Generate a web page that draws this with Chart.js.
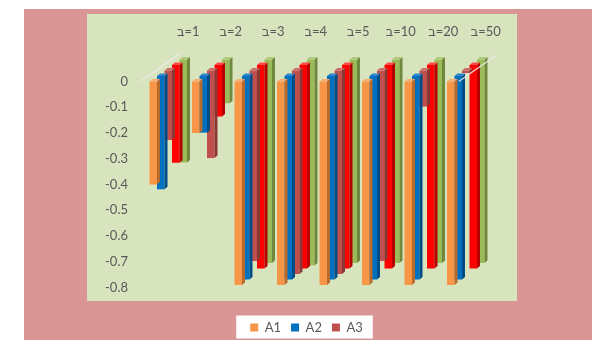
<!DOCTYPE html>
<html><head><meta charset="utf-8">
<script src="https://cdn.jsdelivr.net/npm/chart.js@4/dist/chart.umd.min.js"></script>
<style>
html,body{margin:0;padding:0;background:#fff;width:613px;height:349px;overflow:hidden}
#pink{position:absolute;left:24px;top:9px;width:568px;height:331px;background:#D99694}
#plot{position:absolute;left:87px;top:14px;width:430px;height:287px;background:#D7E4BD}
#wrap{position:absolute;left:0;top:0;width:613px;height:349px}
</style></head><body>
<div id="pink"></div><div id="plot"></div>
<div id="wrap"><canvas id="c" width="613" height="349"></canvas></div>
<script>
// ---- data ----
const categories = ['ב\u200E=1','ב\u200E=2','ב\u200E=3','ב\u200E=4','ב\u200E=5','ב\u200E=10','ב\u200E=20','ב\u200E=50'];
const seriesNames = ['A1','A2','A3','A4','A5'];
const a1 = [-0.40, -0.20, -0.79, -0.79, -0.79, -0.79, -0.79, -0.79];
const a2 = [-0.44, -0.22, -0.79, -0.79, -0.79, -0.79, -0.79, -0.79];
const a3 = [-0.27, -0.34, -0.74, -0.79, -0.79, -0.74, -0.14, -0.01];
const a4 = [-0.38, -0.20, -0.79, -0.79, -0.79, -0.79, -0.79, -0.79];
const a5 = [-0.40, -0.17, -0.79, -0.80, -0.79, -0.79, -0.79, -0.79];
const yTickValues = [0, -0.1, -0.2, -0.3, -0.4, -0.5, -0.6, -0.7, -0.8];
const yTickLabels = ['0', '-0.1', '-0.2', '-0.3', '-0.4', '-0.5', '-0.6', '-0.7', '-0.8'];
const legendCount = 3;

// ---- style ----
const frontColors = ['#F79646', '#0070C0', '#C0504D', '#FF0000', '#9BBB59'];
const sideColors  = ['#B86A2C', '#004C86', '#8A3735', '#B50000', '#6F883D'];
const topColors   = ['#F9AC70', '#2E86CC', '#CC6C69', '#FF4A4A', '#AFC97A'];
const FONT = "Lato, 'DejaVu Sans', sans-serif";
const TXT = '#595959';
const Y0PX = 81.5, PXPU = 257.5, DEPTH_Y = 5.5, DX = 3, DY = 2.5;
const yAxisIds = ['y', 'y1', 'y2', 'y3', 'y4'];
const seriesValues = [a1, a2, a3, a4, a5];

const depthPlugin = {
  id: 'depth',
  afterDatasetDraw(chart, args) {
    const k = args.index, ctx = chart.ctx;
    ctx.save();
    args.meta.data.forEach(el => {
      const p = el.getProps(['x', 'y', 'base', 'width'], true);
      const l = p.x - p.width / 2, r = p.x + p.width / 2;
      const t = Math.min(p.y, p.base), b = Math.max(p.y, p.base);
      ctx.fillStyle = sideColors[k];
      ctx.beginPath(); ctx.moveTo(r, t); ctx.lineTo(r + DX, t - DY); ctx.lineTo(r + DX, b - DY); ctx.lineTo(r, b); ctx.closePath(); ctx.fill();
      ctx.fillStyle = topColors[k];
      ctx.beginPath(); ctx.moveTo(l, t); ctx.lineTo(l + DX, t - DY); ctx.lineTo(r + DX, t - DY); ctx.lineTo(r, t); ctx.closePath(); ctx.fill();
    });
    ctx.restore();
  },
  afterDatasetsDraw(chart) {
    const ctx = chart.ctx, xs = chart.scales.x, ys = chart.scales.y;
    const y0 = ys.getPixelForValue(0);
    const xl = xs.getPixelForValue(0) - 28, xr = xs.getPixelForValue(categories.length - 1) - 7;
    ctx.save();
    ctx.strokeStyle = 'rgba(236,236,236,0.9)';
    ctx.lineWidth = 1.3;
    ctx.beginPath(); ctx.moveTo(xl, y0); ctx.lineTo(xl + 40, y0 - 28); ctx.stroke();
    ctx.beginPath(); ctx.moveTo(xr, y0); ctx.lineTo(xr + 37, y0 - 26); ctx.stroke();
    ctx.restore();
  },
  beforeDraw(chart) {
    const lg = chart.legend;
    if (!lg || !lg.legendHitBoxes || !lg.legendHitBoxes.length) return;
    const hb = lg.legendHitBoxes, last = hb[hb.length - 1];
    const cy = hb[0].top + hb[0].height / 2;
    const ctx = chart.ctx;
    ctx.save();
    ctx.fillStyle = '#FFFFFF';
    ctx.fillRect(hb[0].left - 14, cy - 12, (last.left + last.width + 10) - (hb[0].left - 14), 23);
    ctx.restore();
  }
};

const scales = {
  x: {
    type: 'category', position: 'top', offset: true,
    grid: { display: false, drawTicks: false }, border: { display: false },
    ticks: { color: TXT, font: { family: FONT, size: 13 }, padding: 5, labelOffset: 20, maxRotation: 0, autoSkip: false },
    afterFit: s => { s.height = 31; }
  }
};
yAxisIds.forEach((id, k) => {
  const sc = {
    type: 'linear', position: k === 1 ? 'right' : 'left', display: k === 0,
    min: -0.9, max: 0.15,
    grid: { display: false, drawTicks: false }, border: { display: false },
    ticks: { color: TXT, font: { family: FONT, size: 13 }, padding: 19, autoSkip: false,
             callback: (v, i) => yTickLabels[i] },
    afterBuildTicks: s => { s.ticks = yTickValues.map(v => ({ value: v })); }
  };
  if (k === 0) sc.afterFit = s => { s.width = 42; };
  if (k === 1) sc.afterFit = s => { s.width = 21; };
  scales[id] = sc;
});

const chart = new Chart(document.getElementById('c'), {
  type: 'bar',
  data: {
    labels: categories,
    datasets: seriesValues.map((vals, k) => ({
      label: seriesNames[k], data: vals, yAxisID: yAxisIds[k],
      backgroundColor: frontColors[k], borderColor: frontColors[k], borderWidth: 0,
      categoryPercentage: 0.882, barPercentage: 1
    }))
  },
  options: {
    responsive: false, animation: false, devicePixelRatio: 1,
    layout: { padding: { left: 105, right: 105, top: 14, bottom: 5 } },
    scales,
    plugins: {
      tooltip: { enabled: false },
      legend: {
        position: 'bottom',
        labels: { boxWidth: 8, boxHeight: 8, padding: 10, color: TXT, font: { family: FONT, size: 13 },
                  filter: item => item.datasetIndex < legendCount }
      }
    }
  },
  plugins: [depthPlugin]
});

const area = chart.chartArea;
yAxisIds.forEach((id, k) => {
  const y0 = Y0PX - k * DEPTH_Y;
  chart.options.scales[id].max = (y0 - area.top) / PXPU;
  chart.options.scales[id].min = -(area.bottom - y0) / PXPU;
});
chart.update('none');
</script>
</body></html>
